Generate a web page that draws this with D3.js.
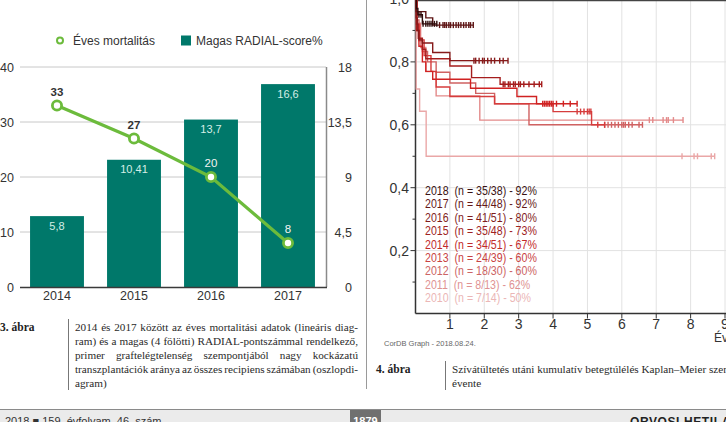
<!DOCTYPE html>
<html><head><meta charset="utf-8">
<script src="https://cdn.jsdelivr.net/npm/d3@7"></script>
<style>
html,body{margin:0;padding:0;background:#fff;}
svg{display:block;}
</style></head>
<body>
<svg id="c" width="726" height="422"></svg>
<script>
// ---------- DATA: left chart ----------
const years = ["2014","2015","2016","2017"];
const radialPct = [5.8, 10.41, 13.7, 16.6];
const radialLabels = ["5,8","10,41","13,7","16,6"];
const mortality = [33, 27, 20, 8];
const leftTicks = [0,10,20,30,40];
const rightTicks = [0,4.5,9,13.5,18];
const rightTickLabels = ["0","4,5","9","13,5","18"];

// ---------- DATA: Kaplan-Meier chart ----------
const kmYears = ["2018","2017","2016","2015","2014","2013","2012","2011","2010"];
const kmLegend = ["2018  (n = 35/38) - 92%","2017  (n = 44/48) - 92%","2016  (n = 41/51) - 80%",
  "2015  (n = 35/48) - 73%","2014  (n = 34/51) - 67%","2013  (n = 24/39) - 60%",
  "2012  (n = 18/30) - 60%","2011  (n = 8/13) - 62%","2010  (n = 7/14) - 50%"];
const kmColors = ["#2e0b0b","#5e1515","#861a1a","#a51d1d","#d02222","#d63c3c","#d06262","#e38a8a","#eaa7a7"];
const kmTextColors = ["#3a1212","#651818","#7f1c1c","#9e2222","#c22a2a","#c84242","#cc6464","#e09292","#ebb6b6"];
// steps: [time (years), survival after the step]
const s2018 = [[0,1],[0.03,0.97],[0.07,0.95],[0.2,0.921]];
const s2017 = [[0,1],[0.02,0.96],[0.3,0.94],[0.5,0.917]];
const s2016 = [[0,1],[0.02,0.94],[0.05,0.9],[0.1,0.87],[0.2,0.86],[0.5,0.83],[1.0,0.804]];
const s2015 = [[0,1],[0.03,0.92],[0.08,0.875],[0.2,0.84],[0.3,0.81],[1.0,0.787],[1.63,0.75],[2.46,0.729]];
const s2014 = [[0,1],[0.03,0.9],[0.1,0.85],[0.2,0.8],[0.3,0.77],[0.5,0.745],[1.6,0.716],[2.95,0.69],[3.52,0.667]];
const s2013 = [[0,1],[0.05,0.92],[0.12,0.87],[0.25,0.82],[0.45,0.77],[0.6,0.72],[1.0,0.69],[2.3,0.667],[4.0,0.642],[5.12,0.6]];
const s2012 = [[0,1],[0.05,0.933],[0.1,0.867],[0.2,0.833],[0.35,0.8],[0.6,0.767],[1.0,0.733],[1.75,0.7],[2.3,0.667],[3.3,0.6]];
const s2011 = [[0,1],[0.05,0.923],[0.15,0.846],[0.3,0.769],[0.6,0.692],[1.87,0.615]];
const s2010 = [[0,1],[0.02,0.714],[0.12,0.643],[0.31,0.5]];
const kmEnd = [0.62, 1.68, 2.69, 3.67, 4.7, 5.5, 6.6, 7.78, 8.7];
const c2018 = [0.1,0.16,0.22,0.3,0.36,0.42,0.48,0.55,0.62];
const c2017 = [0.7,0.8,0.85,0.9,0.97,1.02,1.1,1.18,1.25,1.32,1.4,1.47,1.55,1.6,1.68];
const c2016 = [1.7,1.75,1.85,1.95,2.0,2.1,2.2,2.3,2.45,2.55,2.69];
const c2015 = [2.55,2.6,2.7,2.75,2.85,2.9,3.0,3.05,3.15,3.3,3.45,3.6,3.67];
const c2014 = [3.7,3.75,3.8,3.85,3.9,3.95,4.0,4.1,4.3,4.5,4.7];
const c2013 = [4.7,4.8,4.9,5.0,5.05,5.1,5.3,5.5];
const c2012 = [5.5,5.6,5.7,5.8,5.9,6.0,6.05,6.1,6.2,6.3,6.5,6.6];
const c2011 = [6.8,6.9,7.2,7.3,7.35,7.5,7.78];
const c2010 = [7.75,8.1,8.2,8.6,8.7];
const kmX = [1,2,3,4,5,6,7,8,9];
const kmYMajor = [0.2,0.4,0.6,0.8,1.0];
const kmYLabels = ["0,2","0,4","0,6","0,8","1,0"];
const kmYMinor = [0.1,0.3,0.5,0.7,0.9];

// ---------- CAPTIONS ----------
const cap3 = ["2014 és 2017 között az éves mortalitási adatok (lineáris diag-",
  "ram) és a magas (4 fölötti) RADIAL-pontszámmal rendelkező,",
  "primer graftelégtelenség szempontjából nagy kockázatú",
  "transzplantációk aránya az összes recipiens számában (oszlopdi-",
  "agram)"];
const cap4 = ["Szívátültetés utáni kumulatív betegtúlélés Kaplan–Meier szerint","évente"];

const svg = d3.select("#c");
const SANS = "'Liberation Sans', Arial, sans-serif";
const SERIF = "'Liberation Serif', 'Times New Roman', serif";
const TEAL = "#00786a", GREEN = "#6cbb3c";

// ================= LEFT CHART =================
const yL = d3.scaleLinear().domain([0,40]).range([287,67]);
const yR = d3.scaleLinear().domain([0,18]).range([287,67]);
const xB = d3.scaleBand().domain(years).range([18.5,326.5]).paddingInner(0.3).paddingOuter(0.15);
const L = svg.append("g");

L.selectAll("line.g").data(leftTicks.slice(1)).join("line")
  .attr("x1",20).attr("x2",326).attr("y1",d=>yL(d)).attr("y2",d=>yL(d))
  .attr("stroke","#c8c8c8").attr("stroke-width",1);
L.selectAll("text.yl").data(leftTicks).join("text")
  .attr("x",14).attr("y",d=>yL(d)+4.5).attr("text-anchor","end")
  .attr("font-family",SANS).attr("font-size",12.5).attr("fill","#333").text(d=>d);
L.append("line").attr("x1",326.5).attr("x2",326.5).attr("y1",yR(18)).attr("y2",yR(0))
  .attr("stroke","#8a8a8a").attr("stroke-width",1.5);
L.selectAll("text.yr").data(rightTicks).join("text")
  .attr("x",352).attr("y",d=>yR(d)+4.5).attr("text-anchor","end")
  .attr("font-family",SANS).attr("font-size",12.5).attr("fill","#333")
  .text((d,i)=>rightTickLabels[i]);
L.selectAll("rect.b").data(radialPct).join("rect")
  .attr("x",(d,i)=>xB(years[i])).attr("width",xB.bandwidth())
  .attr("y",d=>yR(d)).attr("height",d=>yR(0)-yR(d)).attr("fill",TEAL);
L.selectAll("text.bl").data(radialPct).join("text")
  .attr("x",(d,i)=>xB(years[i])+xB.bandwidth()/2).attr("y",d=>yR(d)+13.5)
  .attr("text-anchor","middle").attr("font-family",SANS).attr("font-size",11)
  .attr("fill","#d5eee6").text((d,i)=>radialLabels[i]);
L.append("line").attr("x1",20).attr("x2",327).attr("y1",287.5).attr("y2",287.5)
  .attr("stroke","#3a3a3a").attr("stroke-width",1.5);
L.selectAll("text.xl").data(years).join("text")
  .attr("x",d=>xB(d)+xB.bandwidth()/2).attr("y",300)
  .attr("text-anchor","middle").attr("font-family",SANS).attr("font-size",12.5)
  .attr("fill","#333").text(d=>d);
const cx = (i)=>xB(years[i])+xB.bandwidth()/2;
L.append("path").datum(mortality)
  .attr("d",d3.line().x((d,i)=>cx(i)).y(d=>yL(d)))
  .attr("fill","none").attr("stroke",GREEN).attr("stroke-width",3.2);
L.selectAll("circle.m").data(mortality).join("circle")
  .attr("cx",(d,i)=>cx(i)).attr("cy",d=>yL(d)).attr("r",4.6)
  .attr("fill","#fff").attr("stroke",GREEN).attr("stroke-width",2.8);
L.selectAll("text.ml").data(mortality).join("text")
  .attr("x",(d,i)=>cx(i)).attr("y",d=>yL(d)-10)
  .attr("text-anchor","middle").attr("font-family",SANS).attr("font-size",11.5)
  .attr("font-weight",(d,i)=>i<2?"bold":"normal")
  .attr("fill",(d,i)=>i<2?"#333":"#f2f2f2").text(d=>d);
L.append("circle").attr("cx",60).attr("cy",40.5).attr("r",3).attr("fill","#fff")
  .attr("stroke",GREEN).attr("stroke-width",2);
L.append("text").attr("x",73).attr("y",45).attr("font-family",SANS).attr("font-size",12)
  .attr("fill","#333").text("Éves mortalitás");
L.append("rect").attr("x",181).attr("y",35.5).attr("width",10).attr("height",10).attr("fill",TEAL);
L.append("text").attr("x",196).attr("y",45).attr("font-family",SANS).attr("font-size",12)
  .attr("fill","#333").text("Magas RADIAL-score%");

// ================= KM CHART =================
const xK = d3.scaleLinear().domain([0,9]).range([415.5,725]);
const yK = d3.scaleLinear().domain([0,1]).range([313.5,-1]);
const K = svg.append("g");
K.selectAll("line.vg").data(kmX).join("line")
  .attr("x1",d=>xK(d)).attr("x2",d=>xK(d)).attr("y1",0).attr("y2",yK(0))
  .attr("stroke","#e2e2e2").attr("stroke-width",1);
K.selectAll("line.hg").data(kmYMajor.slice(0,4)).join("line")
  .attr("x1",xK(0)).attr("x2",726).attr("y1",d=>yK(d)).attr("y2",d=>yK(d))
  .attr("stroke","#e2e2e2").attr("stroke-width",1);
K.append("line").attr("x1",xK(0)).attr("x2",726).attr("y1",0.5).attr("y2",0.5).attr("stroke","#444").attr("stroke-width",1.5);
K.append("line").attr("x1",xK(0)).attr("x2",xK(0)).attr("y1",0).attr("y2",yK(0)).attr("stroke","#333").attr("stroke-width",1.5);
K.append("line").attr("x1",xK(0)).attr("x2",726).attr("y1",yK(0)).attr("y2",yK(0)).attr("stroke","#333").attr("stroke-width",1.5);
K.selectAll("line.yt").data(kmYMajor).join("line")
  .attr("x1",xK(0)-5).attr("x2",xK(0)).attr("y1",d=>yK(d)).attr("y2",d=>yK(d)).attr("stroke","#333");
K.selectAll("line.ymt").data(kmYMinor).join("line")
  .attr("x1",xK(0)-3).attr("x2",xK(0)).attr("y1",d=>yK(d)).attr("y2",d=>yK(d)).attr("stroke","#333");
K.selectAll("text.kyl").data(kmYMajor).join("text")
  .attr("x",409).attr("y",d=>yK(d)+5).attr("text-anchor","end")
  .attr("font-family",SANS).attr("font-size",14).attr("fill","#333").text((d,i)=>kmYLabels[i]);
K.selectAll("line.xt").data(kmX).join("line")
  .attr("x1",d=>xK(d)).attr("x2",d=>xK(d)).attr("y1",yK(0)).attr("y2",yK(0)+5).attr("stroke","#333");
K.selectAll("text.kxl").data(kmX).join("text")
  .attr("x",d=>xK(d)).attr("y",329).attr("text-anchor","middle")
  .attr("font-family",SANS).attr("font-size",14).attr("fill","#333").text(d=>d);
K.append("text").attr("x",714).attr("y",342).attr("font-family",SANS).attr("font-size",12).attr("fill","#333").text("Év");
K.append("text").attr("x",384).attr("y",346).attr("font-family",SANS).attr("font-size",7.5).attr("fill","#666").text("CorDB Graph - 2018.08.24.");

const steps = [s2018,s2017,s2016,s2015,s2014,s2013,s2012,s2011,s2010];
const cens = [c2018,c2017,c2016,c2015,c2014,c2013,c2012,c2011,c2010];
const surv = (st,t)=>{let v=st[0][1]; for(const p of st){ if(p[0]<=t) v=p[1]; } return v;};
const stepLine = d3.line().x(d=>xK(d[0])).y(d=>yK(d[1])).curve(d3.curveStepAfter);
for(let i=steps.length-1;i>=0;i--){
  const st = steps[i];
  const pts = st.concat([[kmEnd[i], st[st.length-1][1]]]);
  K.append("path").attr("d",stepLine(pts)).attr("fill","none")
    .attr("stroke",kmColors[i]).attr("stroke-width",1.4);
  K.selectAll(null).data(cens[i]).join("line")
    .attr("x1",d=>xK(d)).attr("x2",d=>xK(d))
    .attr("y1",d=>yK(surv(st,d))-3).attr("y2",d=>yK(surv(st,d))+3)
    .attr("stroke",kmColors[i]).attr("stroke-width",1.4);
}
K.selectAll("text.leg").data(kmLegend).join("text")
  .attr("transform",(d,i)=>`translate(425,${195+i*13.4}) scale(0.85,1)`)
  .attr("font-family",SANS).attr("font-size",12.5).attr("fill",(d,i)=>kmTextColors[i])
  .style("white-space","pre").text(d=>d);

// ================= SEPARATORS / CAPTIONS =================
svg.append("line").attr("x1",366.5).attr("x2",366.5).attr("y1",0).attr("y2",389).attr("stroke","#9a9a9a");
svg.append("line").attr("x1",68.5).attr("x2",68.5).attr("y1",319).attr("y2",390).attr("stroke","#777");
svg.append("line").attr("x1",445.5).attr("x2",445.5).attr("y1",361).attr("y2",390).attr("stroke","#777");
svg.append("text").attr("x",0).attr("y",331).attr("font-family",SERIF).attr("font-size",11.5)
  .attr("font-weight","bold").attr("fill","#222").text("3. ábra");
svg.append("text").attr("x",376).attr("y",373).attr("font-family",SERIF).attr("font-size",11.5)
  .attr("font-weight","bold").attr("fill","#222").text("4. ábra");

function justify(lines,x0,x1,y0,lh,lastLeft){
  lines.forEach((ln,li)=>{
    const words = ln.split(" ");
    const y = y0+li*lh;
    const tmp = words.map(w=>svg.append("text").attr("font-family",SERIF).attr("font-size",11.2).attr("fill","#2a2a2a").attr("y",y).text(w));
    const ws = tmp.map(t=>t.node().getComputedTextLength());
    const tot = d3.sum(ws);
    const gap = (li===lines.length-1 && lastLeft) || words.length<2 ? 2.9 : (x1-x0-tot)/(words.length-1);
    let x = x0;
    tmp.forEach((t,k)=>{ t.attr("x",x); x += ws[k]+gap; });
  });
}
justify(cap3,75,358,331,14,true);
cap4.forEach((ln,i)=>svg.append("text").attr("x",452).attr("y",373+i*14).attr("font-family",SERIF)
  .attr("font-size",11.2).attr("fill","#2a2a2a").text(ln));

// ================= FOOTER =================
svg.append("rect").attr("x",0).attr("y",410).attr("width",726).attr("height",12).attr("fill","#ebebeb");
svg.append("line").attr("x1",0).attr("x2",726).attr("y1",409.5).attr("y2",409.5).attr("stroke","#8a8a8a").attr("stroke-width",1.2);
svg.append("rect").attr("x",350).attr("y",410).attr("width",31).attr("height",12).attr("fill","#707070");
svg.append("text").attr("x",5).attr("y",425).attr("font-family",SANS).attr("font-size",11).attr("fill","#333").text("2018 ■ 159. évfolyam, 46. szám");
svg.append("text").attr("x",365.5).attr("y",425).attr("text-anchor","middle").attr("font-family",SANS).attr("font-size",11).attr("font-weight","bold").attr("fill","#fff").text("1879");
svg.append("text").attr("x",630).attr("y",426).attr("font-family",SANS).attr("font-size",12).attr("font-weight","bold").attr("letter-spacing",0.6).attr("fill","#222").text("ORVOSI HETILAP");
</script>
</body></html>
